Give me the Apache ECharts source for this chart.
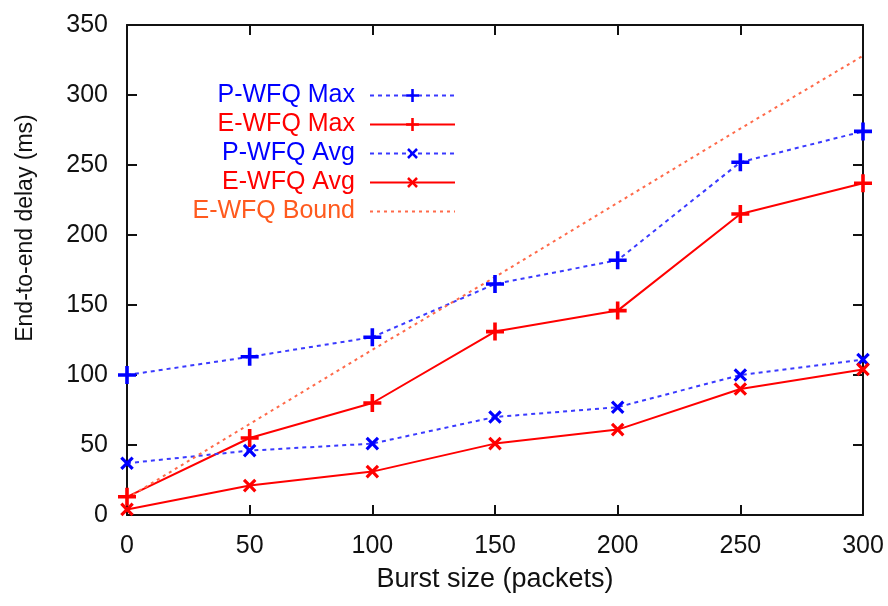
<!DOCTYPE html>
<html style="height: 100%">
<head>
    <meta charset="utf-8">
</head>
<body style="height: 100%; margin: 0; background: #fff">
    <div id="container" style="width: 888px; height: 606px"></div>
    <script src="https://cdn.jsdelivr.net/npm/echarts@6/dist/echarts.min.js"></script>
    <script type="text/javascript">
        // burst sizes (packets)
        var burst = [0, 50, 100, 150, 200, 250, 300];
        // end-to-end delay (ms)
        var pwfqMax = [100, 113, 127, 165, 182, 252, 274];
        var ewfqMax = [13, 55, 80, 131, 146, 215, 237];
        var pwfqAvg = [37, 46, 51, 70, 77, 100, 111];
        var ewfqAvg = [4, 21, 31, 51, 61, 90, 104];
        var ewfqBound = [12, 65, 118, 170, 223, 276, 328];

        var plus = 'path://M4,0 H6 V4 H10 V6 H6 V10 H4 V6 H0 V4 H4 Z';
        var font = 'Liberation Sans';

        function pairs(ys) {
            return burst.map(function (x, i) { return [x, ys[i]]; });
        }

        var dom = document.getElementById("container");
        var myChart = echarts.init(dom);

        function mkSeries(name, ys, color, dashed, rot, lineColor) {
            return {
                name: name,
                type: 'line',
                data: pairs(ys),
                symbol: rot === null ? 'none' : plus,
                symbolSize: rot === 45 ? 16 : 18,
                symbolRotate: rot || 0,
                itemStyle: { color: color },
                lineStyle: {
                    color: lineColor || color,
                    width: 2,
                    type: dashed
                },
                emphasis: { disabled: true },
                animation: false
            };
        }

        // gnuplot-like frame: ticks pointing inwards on all four sides
        function frameAxis(extra) {
            var a = {
                type: 'value',
                axisLine: { show: true, onZero: false, lineStyle: { color: '#111', width: 2 } },
                axisTick: { show: true, inside: true, length: 10, lineStyle: { color: '#111', width: 2 } },
                axisLabel: { show: false },
                splitLine: { show: false }
            };
            for (var k in extra) a[k] = extra[k];
            return a;
        }

        var option = {
            backgroundColor: '#fff',
            grid: { left: 127, right: 25, top: 25, bottom: 91 },
            legend: {
                orient: 'vertical',
                align: 'right',
                right: 427,
                top: 78,
                itemWidth: 85,
                itemHeight: 16,
                itemGap: 4,
                textStyle: { fontFamily: font, fontSize: 25, padding: [0, 10, 0, 0] },
                data: [
                    { name: 'P-WFQ Max', textStyle: { color: '#0000ff' } },
                    { name: 'E-WFQ Max', textStyle: { color: '#ff0000' } },
                    { name: 'P-WFQ Avg', textStyle: { color: '#0000ff' } },
                    { name: 'E-WFQ Avg', textStyle: { color: '#ff0000' } },
                    { name: 'E-WFQ Bound', textStyle: { color: '#ff5a1e' }, itemStyle: { opacity: 0 } }
                ]
            },
            xAxis: [
                frameAxis({
                    min: 0, max: 300, interval: 50,
                    name: 'Burst size (packets)',
                    nameLocation: 'middle',
                    nameGap: 51,
                    nameTextStyle: { fontFamily: font, fontSize: 27, color: '#111' },
                    axisLabel: { fontFamily: font, fontSize: 25, color: '#111', margin: 19 }
                }),
                frameAxis({ position: 'top', min: 0, max: 300, interval: 50 })
            ],
            yAxis: [
                frameAxis({
                    min: 0, max: 350, interval: 50,
                    name: 'End-to-end delay (ms)',
                    nameLocation: 'middle',
                    nameGap: 90,
                    nameTextStyle: { fontFamily: font, fontSize: 23, color: '#111', padding: [0, 0, 0, 84] },
                    axisLabel: { fontFamily: font, fontSize: 25, color: '#111', margin: 19 }
                }),
                frameAxis({ position: 'right', min: 0, max: 350, interval: 50 })
            ],
            series: [
                mkSeries('P-WFQ Max', pwfqMax, '#0000ff', [4, 4], 0, '#3a3aff'),
                mkSeries('E-WFQ Max', ewfqMax, '#ff0000', 'solid', 0),
                mkSeries('P-WFQ Avg', pwfqAvg, '#0000ff', [4, 4], 45, '#3a3aff'),
                mkSeries('E-WFQ Avg', ewfqAvg, '#ff0000', 'solid', 45),
                mkSeries('E-WFQ Bound', ewfqBound, '#ff6a4a', [3, 4], null)
            ]
        };

        if (option && typeof option === "object") {
            myChart.setOption(option, true);
        }
    </script>
</body>
</html>
